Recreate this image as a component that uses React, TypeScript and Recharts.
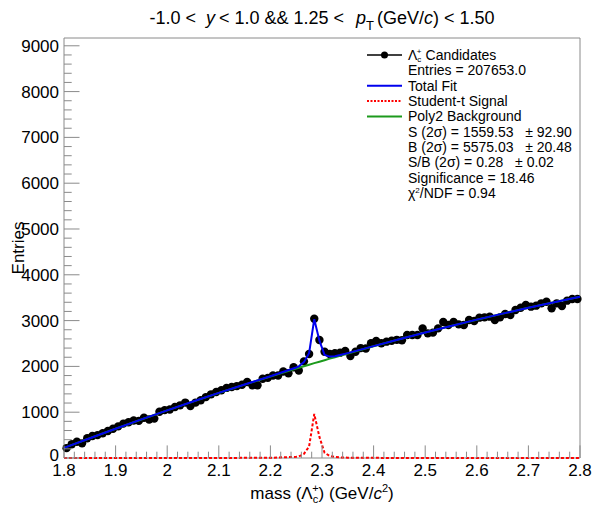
import React from 'react';
import { ComposedChart, Line, XAxis, YAxis, ReferenceLine } from 'recharts';

// ---- data ----
const binCenters = [
  1.805, 1.815, 1.825, 1.835, 1.845, 1.855, 1.865, 1.875, 1.885, 1.895,
  1.905, 1.915, 1.925, 1.935, 1.945, 1.955, 1.965, 1.975, 1.985, 1.995,
  2.005, 2.015, 2.025, 2.035, 2.045, 2.055, 2.065, 2.075, 2.085, 2.095,
  2.105, 2.115, 2.125, 2.135, 2.145, 2.155, 2.165, 2.175, 2.185, 2.195,
  2.205, 2.215, 2.225, 2.235, 2.245, 2.255, 2.265, 2.275, 2.285, 2.295,
  2.305, 2.315, 2.325, 2.335, 2.345, 2.355, 2.365, 2.375, 2.385, 2.395,
  2.405, 2.415, 2.425, 2.435, 2.445, 2.455, 2.465, 2.475, 2.485, 2.495,
  2.505, 2.515, 2.525, 2.535, 2.545, 2.555, 2.565, 2.575, 2.585, 2.595,
  2.605, 2.615, 2.625, 2.635, 2.645, 2.655, 2.665, 2.675, 2.685, 2.695,
  2.705, 2.715, 2.725, 2.735, 2.745, 2.755, 2.765, 2.775, 2.785, 2.795,
];
const counts = [
  215, 300, 355, 320, 430, 480, 500, 540, 590, 640,
  690, 750, 780, 820, 810, 880, 840, 860, 1010, 1045,
  1060, 1115, 1150, 1210, 1135, 1210, 1260, 1330, 1390, 1440,
  1480, 1530, 1550, 1570, 1600, 1660, 1590, 1590, 1730, 1750,
  1800, 1800, 1890, 1850, 1980, 1910, 2110, 2270, 3040, 2576,
  2321, 2270, 2290, 2300, 2336, 2227, 2321, 2400, 2390, 2504,
  2555, 2504, 2540, 2560, 2580, 2570, 2686, 2686, 2686, 2830,
  2722, 2737, 2830, 2969, 2904, 2969, 2918, 2904, 3013, 2991,
  3064, 3071, 3086, 3013, 3071, 3144, 3122, 3231, 3282, 3341,
  3304, 3326, 3377, 3413, 3268, 3377, 3319, 3435, 3472, 3472,
];

const fitMass = [
  1.8, 1.85, 1.9, 1.95, 2.0, 2.05, 2.1, 2.15, 2.2, 2.25,
  2.255, 2.265, 2.275, 2.285, 2.295, 2.305, 2.315, 2.325, 2.335,
  2.35, 2.4, 2.45, 2.5, 2.55, 2.6, 2.65, 2.7, 2.75, 2.8,
];
const fitBackground = [
  220, 432, 640, 842, 1040, 1232, 1420, 1602, 1780, 1952,
  1970, 2003, 2037, 2071, 2103, 2136, 2169, 2201, 2233,
  2282, 2440, 2592, 2740, 2882, 3020, 3152, 3280, 3402, 3520,
];
const fitSignal = [
  0, 0, 0, 1, 1, 1, 2, 3, 5, 25,
  32, 90, 250, 960, 460, 115, 45, 22, 14,
  8, 3, 2, 1, 1, 1, 0, 0, 0, 0,
];
const fitTotal = [
  220, 432, 640, 843, 1041, 1233, 1422, 1605, 1785, 1977,
  2002, 2093, 2287, 3031, 2563, 2251, 2214, 2223, 2247,
  2290, 2443, 2594, 2741, 2883, 3021, 3152, 3280, 3402, 3520,
];

const xMajorTicks = [1.8, 1.9, 2.0, 2.1, 2.2, 2.3, 2.4, 2.5, 2.6, 2.7, 2.8];
const xMajorLabels = ['1.8', '1.9', '2', '2.1', '2.2', '2.3', '2.4', '2.5', '2.6', '2.7', '2.8'];
const yMajorTicks = [0, 1000, 2000, 3000, 4000, 5000, 6000, 7000, 8000, 9000];
const yMajorLabels = ['0', '1000', '2000', '3000', '4000', '5000', '6000', '7000', '8000', '9000'];

const xMin = 1.8;
const xMax = 2.8;
const yMax = 9170;

// ---- presentation ----
const W = 596;
const H = 506;
const FONT = '"Liberation Sans", Arial, Helvetica, sans-serif';
const FRAME = '#8a8a8a';
const BLUE = '#0000ee';
const RED = '#ff0000';
const GREEN = '#1c9a1c';

const xAllTicks = Array.from({ length: 51 }, (_, i) => +(xMin + i * 0.02).toFixed(2));
const yAllTicks = Array.from({ length: 46 }, (_, i) => i * 200);

const pointData = binCenters.map((m, i) => ({ x: m, y: counts[i] }));
const totalData = fitMass.map((m, i) => ({ x: m, y: fitTotal[i] }));
const signalData = fitMass.map((m, i) => ({ x: m, y: fitSignal[i] }));
const bgData = fitMass.map((m, i) => ({ x: m, y: fitBackground[i] }));

const XTick = (props: any) => {
  const { x, y, payload } = props;
  const v = payload.value;
  const idx = xMajorTicks.findIndex((t) => Math.abs(t - v) < 1e-6);
  const major = idx >= 0;
  return (
    <g>
      <line x1={x} x2={x} y1={y} y2={y - (major ? 12.6 : 6.3)} stroke={FRAME} strokeWidth={1} />
      {major && (
        <text x={x} y={y + 18} textAnchor="middle" fontSize={17} fontFamily={FONT} fill="#000">
          {xMajorLabels[idx]}
        </text>
      )}
    </g>
  );
};

const YTick = (props: any) => {
  const { x, y, payload } = props;
  const v = payload.value;
  const idx = yMajorTicks.indexOf(v);
  const major = idx >= 0;
  return (
    <g>
      <line x1={x} x2={x + (major ? 15.5 : 7.7)} y1={y} y2={y} stroke={FRAME} strokeWidth={1} />
      {major && (
        <text x={x - 5} y={y + (v === 0 ? 3 : 6)} textAnchor="end" fontSize={17} fontFamily={FONT} fill="#000">
          {yMajorLabels[idx]}
        </text>
      )}
    </g>
  );
};

const Dot = (props: any) => {
  const { cx, cy } = props;
  if (cx == null || cy == null) return null;
  return <circle cx={cx} cy={cy} r={4.2} fill="#000" />;
};

const legendRows = [
  { kind: 'marker', text: 'cand' },
  { kind: 'none', text: 'Entries = 207653.0' },
  { kind: 'blue', text: 'Total Fit' },
  { kind: 'red', text: 'Student-t Signal' },
  { kind: 'green', text: 'Poly2 Background' },
  { kind: 'none', text: 'S (2σ) = 1559.53   ± 92.90' },
  { kind: 'none', text: 'B (2σ) = 5575.03   ± 20.48' },
  { kind: 'none', text: 'S/B (2σ) = 0.28   ± 0.02' },
  { kind: 'none', text: 'Significance = 18.46' },
  { kind: 'chi', text: '' },
];

const Overlay = () => {
  const lx0 = 367;
  const lx1 = 402;
  const tx = 408;
  const row0 = 55;
  const step = 15.35;
  return (
    <svg
      width={W}
      height={H}
      style={{ position: 'absolute', left: 0, top: 0, pointerEvents: 'none' }}
      fontFamily={FONT}
    >
      {/* title */}
      <text x={322} y={24} textAnchor="middle" fontSize={18} fill="#000" style={{ whiteSpace: 'pre' }}>
        <tspan>-1.0 &lt;</tspan>
        <tspan dx={10} fontStyle="italic">y</tspan>
        <tspan dx={4}>&lt; 1.0 &amp;&amp; 1.25 &lt;</tspan>
        <tspan dx={12} fontStyle="italic">p</tspan>
        <tspan fontSize={13} dy={6}>T</tspan>
        <tspan dx={3} dy={-6}>(GeV/</tspan>
        <tspan fontStyle="italic">c</tspan>
        <tspan>) &lt; 1.50</tspan>
      </text>

      {/* y title */}
      <text x={24} y={248} textAnchor="middle" fontSize={17} fill="#000" transform="rotate(-90 24 248)">
        Entries
      </text>

      {/* x title */}
      <text x={322} y={499} textAnchor="middle" fontSize={17} fill="#000">
        <tspan>mass (Λ</tspan>
        <tspan fontSize={11} dy={4}>c</tspan>
        <tspan fontSize={11} dx={-6} dy={-11}>+</tspan>
        <tspan dy={7}>) (GeV/</tspan>
        <tspan fontStyle="italic">c</tspan>
        <tspan fontSize={11} dy={-7}>2</tspan>
        <tspan dy={7}>)</tspan>
      </text>

      {/* legend */}
      {legendRows.map((r, i) => {
        const cy = row0 + i * step;
        const by = cy + 5;
        return (
          <g key={i}>
            {r.kind === 'marker' && (
              <g>
                <line x1={lx0} x2={lx1} y1={cy} y2={cy} stroke="#000" strokeWidth={1.5} />
                <circle cx={(lx0 + lx1) / 2} cy={cy} r={3.5} fill="#000" />
              </g>
            )}
            {r.kind === 'blue' && <line x1={lx0} x2={lx1} y1={cy} y2={cy} stroke={BLUE} strokeWidth={2} />}
            {r.kind === 'red' && (
              <line x1={lx0} x2={lx1} y1={cy} y2={cy} stroke={RED} strokeWidth={2} strokeDasharray="2 1.5" />
            )}
            {r.kind === 'green' && <line x1={lx0} x2={lx1} y1={cy} y2={cy} stroke={GREEN} strokeWidth={2} />}
            {r.kind === 'marker' ? (
              <text x={tx} y={by} fontSize={14} fill="#000">
                <tspan>Λ</tspan>
                <tspan fontSize={8} dy={2}>c</tspan>
                <tspan fontSize={8} dx={-4.5} dy={-8}>+</tspan>
                <tspan dx={4} dy={6}>Candidates</tspan>
              </text>
            ) : r.kind === 'chi' ? (
              <text x={tx} y={by} fontSize={14} fill="#000">
                <tspan>χ</tspan>
                <tspan fontSize={8} dy={-5}>2</tspan>
                <tspan dy={5}>/NDF = 0.94</tspan>
              </text>
            ) : (
              <text x={tx} y={by} fontSize={14} fill="#000" style={{ whiteSpace: 'pre' }}>
                {r.text}
              </text>
            )}
          </g>
        );
      })}
    </svg>
  );
};

export default function App() {
  const lineExtra: any = { zIndex: 1500 };
  return (
    <div style={{ position: 'absolute', left: 0, top: 0, width: W, height: H, background: '#fff' }}>
      <ComposedChart width={W} height={H} margin={{ top: 38, right: 16, bottom: 0, left: 0 }}>
        <XAxis
          type="number"
          dataKey="x"
          domain={[xMin, xMax]}
          ticks={xAllTicks}
          interval={0}
          tick={<XTick />}
          tickLine={false}
          tickSize={0}
          tickMargin={0}
          height={48}
          axisLine={{ stroke: FRAME, strokeWidth: 1 }}
        />
        <YAxis
          type="number"
          domain={[0, yMax]}
          ticks={yAllTicks}
          interval={0}
          tick={<YTick />}
          tickLine={false}
          tickSize={0}
          tickMargin={0}
          width={64}
          axisLine={{ stroke: FRAME, strokeWidth: 1 }}
        />
        <ReferenceLine y={yMax} stroke={FRAME} strokeWidth={1} ifOverflow="visible" />
        <ReferenceLine x={xMax} stroke={FRAME} strokeWidth={1} ifOverflow="visible" />
        <Line
          data={pointData}
          dataKey="y"
          type="linear"
          stroke="none"
          dot={<Dot />}
          activeDot={false}
          isAnimationActive={false}
        />
        <Line
          data={bgData}
          dataKey="y"
          type="linear"
          stroke={GREEN}
          strokeWidth={2}
          dot={false}
          activeDot={false}
          isAnimationActive={false}
          {...{ zIndex: 1400 }}
        />
        <Line
          data={totalData}
          dataKey="y"
          type="linear"
          stroke={BLUE}
          strokeWidth={2}
          dot={false}
          activeDot={false}
          isAnimationActive={false}
          {...lineExtra}
        />
        <Line
          data={signalData}
          dataKey="y"
          type="linear"
          stroke={RED}
          strokeWidth={2}
          strokeDasharray="3 2"
          dot={false}
          activeDot={false}
          isAnimationActive={false}
          {...lineExtra}
        />
      </ComposedChart>
      <Overlay />
    </div>
  );
}
